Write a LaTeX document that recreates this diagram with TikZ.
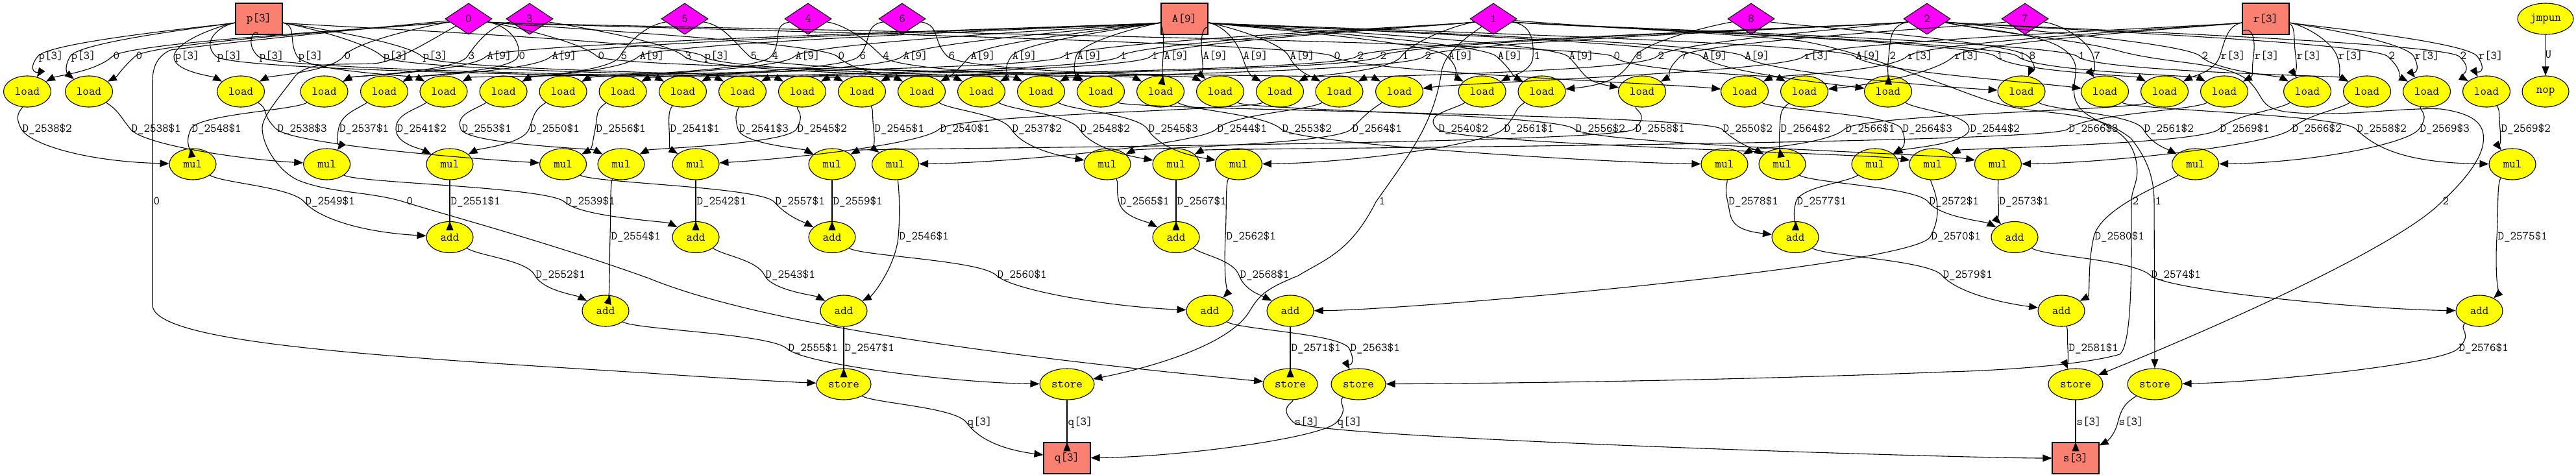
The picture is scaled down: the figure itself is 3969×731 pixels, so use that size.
\documentclass[tikz,border=0pt]{standalone}
\usepackage{fontspec}
\usetikzlibrary{arrows.meta,calc,shapes.geometric}
\definecolor{memcolor}{rgb}{0.98, 0.5, 0.447}
\definecolor{opcolor}{rgb}{1, 1, 0}
\definecolor{idxcolor}{rgb}{1, 0, 1}
\tikzset{
	opnode/.style={
		ellipse,
		draw=black,
		line width=1.1pt,
		fill=opcolor,
		font=\ttfamily\fontsize{18.5}{20}\selectfont,
		inner sep=0pt,
		minimum height=48pt,
		minimum width=73pt
	},
	shortop/.style={
		opnode,
		minimum width=72pt
	},
	storeop/.style={
		opnode,
		minimum width=84pt
	},
	memnode/.style={
		rectangle,
		draw=black,
		line width=1.1pt,
		fill=memcolor,
		font=\ttfamily\fontsize{18.5}{20}\selectfont,
		inner sep=0pt,
		minimum height=48pt,
		minimum width=72pt
	},
	idxnode/.style={
		diamond,
		draw=black,
		line width=1.1pt,
		fill=idxcolor,
		font=\ttfamily\fontsize{18.5}{20}\selectfont,
		inner sep=0pt,
		aspect=1.5,
		minimum height=48pt,
		minimum width=72pt
	},
	arrow/.style={
		draw=black,
		line width=1.1pt,
		-{Triangle[length=14pt,width=11pt]}
	},
	lab/.style={
		font=\ttfamily\fontsize{18.5}{20}\selectfont,
		inner sep=0pt,
		text height=11pt,
		text depth=3pt
	},
}
\newcommand{\linkrise}{29}
\newcommand{\linkreach}{45}
\newcommand{\link}[5][24]{%
	\draw [arrow] let \p1=(#2), \p2=(#3),
		\n{wx}={#4pt-3pt},
		\n{wy}={(\y1+\y2)/2-2pt+ifthenelse(\y1-\y2>150,3,0)*1pt},
		\n{tilt}={max(-25pt,min(25pt,0.05*(\x1-\x2)))},
		\n{gap}={0.4*(\y1-\n{wy})},
		\n{land}={45+(24-#1)*6},
		\n{outx}={max(-\linkreach pt,min(\linkreach pt,\n{wx}-\x1))},
		\n{inx}={max(-\n{land},min(\n{land},\n{wx}-\x2))} in
		(#2) .. controls ({\x1+\n{outx}},{\y1-\linkrise pt}) and ({\n{wx}+\n{tilt}},{\n{wy}+\n{gap}}) ..
		({\n{wx}},{\n{wy}}) node [lab,anchor=west,xshift=1pt] {#5}
		.. controls ({\n{wx}-\n{tilt}},{\n{wy}-\n{gap}}) and ({\x2+\n{inx}},{\y2+#1 pt}) .. (#3);
}
\begin{document}
\begin{tikzpicture}[x=1pt,y=-1pt]
		\useasboundingbox (0,0) rectangle (3969,731);
		\node (parr) [memnode] at (399,29) {p[3]};
		\node (idx0) [idxnode] at (722,29) {0};
		\node (idx3) [idxnode] at (816,29) {3};
		\node (idx5) [idxnode] at (1055,29) {5};
		\node (idx4) [idxnode] at (1245,29) {4};
		\node (idx6) [idxnode] at (1390,29) {6};
		\node (aarr) [memnode] at (1825,29) {A[9]};
		\node (idx1) [idxnode] at (2301,29) {1};
		\node (idx8) [idxnode] at (2698,29) {8};
		\node (idx2) [idxnode] at (2969,29) {2};
		\node (idx7) [idxnode] at (3120,29) {7};
		\node (rarr) [memnode] at (3491,29) {r[3]};
		\node (jmpun) [opnode,minimum width=86pt] at (3922,29) {jmpun};
		\node (nop) [shortop] at (3922,141) {nop};
		\node (load42) [opnode] at (42,141) {load};
		\node (load137) [opnode] at (137,141) {load};
		\node (load371) [opnode] at (371,141) {load};
		\node (load500) [opnode] at (499.5,141) {load};
		\node (load592) [opnode] at (592,141) {load};
		\node (load684) [opnode] at (683.5,141) {load};
		\node (load776) [opnode] at (775.6,141) {load};
		\node (load868) [opnode] at (867.6,141) {load};
		\node (load960) [opnode] at (959.6,141) {load};
		\node (load1052) [opnode] at (1052,141) {load};
		\node (load1144) [opnode] at (1144,141) {load};
		\node (load1236) [opnode] at (1236,141) {load};
		\node (load1328) [opnode] at (1328,141) {load};
		\node (load1420) [opnode] at (1420,141) {load};
		\node (load1512) [opnode] at (1512,141) {load};
		\node (load1604) [opnode] at (1604,141) {load};
		\node (load1696) [opnode] at (1696,141) {load};
		\node (load1788) [opnode] at (1788,141) {load};
		\node (load1880) [opnode] at (1880,141) {load};
		\node (load1972) [opnode] at (1972,141) {load};
		\node (load2064) [opnode] at (2063.5,141) {load};
		\node (load2156) [opnode] at (2156,141) {load};
		\node (load2284) [opnode] at (2283.6,141) {load};
		\node (load2376) [opnode] at (2375.5,141) {load};
		\node (load2530) [opnode] at (2530,141) {load};
		\node (load2688) [opnode] at (2688,141) {load};
		\node (load2780) [opnode] at (2780,141) {load};
		\node (load2909) [opnode] at (2909,141) {load};
		\node (load3115) [opnode] at (3114.5,141) {load};
		\node (load3243) [opnode] at (3243,141) {load};
		\node (load3335) [opnode] at (3335,141) {load};
		\node (load3427) [opnode] at (3427,141) {load};
		\node (load3555) [opnode] at (3555,141) {load};
		\node (load3647) [opnode] at (3647,141) {load};
		\node (load3739) [opnode] at (3739,141) {load};
		\node (load3831) [opnode] at (3831,141) {load};
		\node (mul297) [shortop] at (297,253) {mul};
		\node (mul504) [shortop] at (503.6,253) {mul};
		\node (mul693) [shortop] at (693,253) {mul};
		\node (mul868) [shortop] at (867.6,253) {mul};
		\node (mul957) [shortop] at (957,253) {mul};
		\node (mul1072) [shortop] at (1072,253) {mul};
		\node (mul1282) [shortop] at (1282,253) {mul};
		\node (mul1380) [shortop] at (1379.5,253) {mul};
		\node (mul1706) [shortop] at (1706,253) {mul};
		\node (mul1812) [shortop] at (1812,253) {mul};
		\node (mul1908) [shortop] at (1908.4,253) {mul};
		\node (mul2657) [shortop] at (2657,253) {mul};
		\node (mul2746) [shortop] at (2746,253) {mul};
		\node (mul2889) [shortop] at (2889,253) {mul};
		\node (mul2978) [shortop] at (2978,253) {mul};
		\node (mul3078) [shortop] at (3078.4,253) {mul};
		\node (mul3383) [shortop] at (3382.5,253) {mul};
		\node (mul3871) [shortop] at (3871,253) {mul};
		\node (adda693) [shortop] at (693,365.5) {add};
		\node (adda1072) [shortop] at (1072,365.5) {add};
		\node (adda1282) [shortop] at (1282,365.5) {add};
		\node (adda1812) [shortop] at (1812,365.5) {add};
		\node (adda2766) [shortop] at (2766,365.5) {add};
		\node (adda3104) [shortop] at (3104,365.5) {add};
		\node (addb933) [shortop] at (933,479) {add};
		\node (addb1300) [shortop] at (1300,479) {add};
		\node (addb1864) [shortop] at (1864,479) {add};
		\node (addb1988) [shortop] at (1988,479) {add};
		\node (addb3176) [shortop] at (3176,479) {add};
		\node (addb3820) [shortop] at (3820,479) {add};
		\node (store1300) [storeop] at (1300,592) {store};
		\node (store1644) [storeop] at (1644,592) {store};
		\node (store1988) [storeop] at (1988,592) {store};
		\node (store2093) [storeop] at (2093,592) {store};
		\node (store3198) [storeop] at (3198,592) {store};
		\node (store3320) [storeop] at (3320,592) {store};
		\node (qarr) [memnode] at (1644,706) {q[3]};
		\node (sarr) [memnode] at (3198,706) {s[3]};
		\renewcommand{\linkrise}{10}
		\renewcommand{\linkreach}{60}
		\link{parr}{load42}{61}{p[3]}
		\link{parr}{load137}{111}{p[3]}
		\link{parr}{load371}{271}{p[3]}
		\link{parr}{load1052}{336}{p[3]}
		\link{parr}{load1144}{401}{p[3]}
		\link{parr}{load684}{461}{p[3]}
		\link{parr}{load1236}{592}{p[3]}
		\link{parr}{load1328}{653}{p[3]}
		\link{parr}{load1604}{1087}{p[3]}
		\link{idx0}{load42}{176}{0}
		\link{idx0}{load137}{211}{0}
		\link{idx0}{load371}{532}{0}
		\link{idx0}{load592}{801}{0}
		\link{idx0}{load2156}{923}{0}
		\link{idx0}{load1420}{1293}{0}
		\link[12]{idx0}{load2688}{2057}{0}
		\link{idx0}{load2780}{2488}{0}
		\link{idx3}{load500}{723}{3}
		\link{idx3}{load1512}{1057}{3}
		\link{idx5}{load776}{958}{5}
		\link{idx5}{load1788}{1158}{5}
		\link{idx4}{load868}{1191}{4}
		\link{idx4}{load1696}{1362}{4}
		\link{idx6}{load960}{1326}{6}
		\link{idx6}{load1880}{1463}{6}
		\link{idx1}{load684}{1641}{1}
		\link{idx1}{load1052}{1728}{1}
		\link{idx1}{load1144}{1776}{1}
		\link{idx1}{load1972}{2162}{1}
		\link{idx1}{load2284}{2365}{1}
		\link{idx1}{load3335}{3078}{1}
		\link{idx1}{load3427}{3112}{1}
		\link{idx1}{load3647}{3204}{1}
		\link{idx2}{load1236}{2093}{2}
		\link{idx2}{load1328}{2128}{2}
		\link{idx2}{load1604}{2197}{2}
		\link{idx2}{load2064}{2556}{2}
		\link{idx2}{load2909}{2913}{2}
		\link{idx2}{load3555}{3394}{2}
		\link{idx2}{load3739}{3682}{2}
		\link{idx2}{load3831}{3792}{2}
		\link[12]{idx8}{load2376}{2522}{8}
		\link{idx8}{load3115}{3128}{8}
		\link{idx7}{load2530}{2592}{7}
		\link{idx7}{load3243}{3228}{7}
		\link{aarr}{load500}{752}{A[9]}
		\link{aarr}{load592}{852}{A[9]}
		\link{aarr}{load776}{987}{A[9]}
		\link{aarr}{load868}{1227}{A[9]}
		\link{aarr}{load960}{1393}{A[9]}
		\link{aarr}{load1420}{1497}{A[9]}
		\link{aarr}{load1512}{1561}{A[9]}
		\link{aarr}{load1696}{1661}{A[9]}
		\link{aarr}{load1788}{1795}{A[9]}
		\link{aarr}{load1880}{1855}{A[9]}
		\link{aarr}{load1972}{1917}{A[9]}
		\link{aarr}{load2064}{1989}{A[9]}
		\link{aarr}{load2284}{2233}{A[9]}
		\link{aarr}{load2376}{2309}{A[9]}
		\link[16]{aarr}{load2530}{2419}{A[9]}
		\link[14]{aarr}{load2909}{2625}{A[9]}
		\link[8]{aarr}{load3115}{2690}{A[9]}
		\link[14]{aarr}{load3243}{2861}{A[9]}
		\link[14]{rarr}{load2156}{2782}{r[3]}
		\link{rarr}{load2688}{2941}{r[3]}
		\link[12]{rarr}{load2780}{3013}{r[3]}
		\link{rarr}{load3335}{3423}{r[3]}
		\link{rarr}{load3427}{3475}{r[3]}
		\link{rarr}{load3555}{3540}{r[3]}
		\link{rarr}{load3647}{3604}{r[3]}
		\link{rarr}{load3739}{3722}{r[3]}
		\link{rarr}{load3831}{3820}{r[3]}
		\draw [arrow] (jmpun) -- node [lab,anchor=west,xshift=-1pt] {U} (nop);
		\renewcommand{\linkrise}{29}
		\renewcommand{\linkreach}{45}
		\link[4]{load42}{mul297}{36}{D\_2538\$2}
		\link[8]{load137}{mul504}{204}{D\_2538\$1}
		\link[8]{load371}{mul868}{429}{D\_2538\$3}
		\link{load500}{mul297}{297}{D\_2548\$1}
		\link{load592}{mul504}{524.5}{D\_2537\$1}
		\link{load684}{mul693}{613}{D\_2541\$2}
		\link{load776}{mul957}{713}{D\_2553\$1}
		\link{load868}{mul693}{818}{D\_2550\$1}
		\link{load960}{mul868}{920}{D\_2556\$1}
		\link{load1052}{mul1072}{1034}{D\_2541\$1}
		\link{load1144}{mul1282}{1140}{D\_2541\$3}
		\link{load1236}{mul957}{1230}{D\_2545\$2}
		\link{load1328}{mul1380}{1349}{D\_2545\$1}
		\link[16]{load1420}{mul1706}{1561}{D\_2537\$2}
		\link[16]{load1512}{mul1812}{1666}{D\_2548\$2}
		\link[16]{load1604}{mul1908}{1771}{D\_2545\$3}
		\link{load1696}{mul2746}{2656}{D\_2550\$2}
		\link[2]{load1788}{mul2657}{1977}{D\_2553\$2}
		\link[16]{load1880}{mul3078}{2429}{D\_2556\$2}
		\link[8]{load1972}{mul1072}{1450}{D\_2540\$1}
		\link[2]{load2064}{mul1380}{1877}{D\_2544\$1}
		\link{load2156}{mul1706}{2085}{D\_2564\$1}
		\link[16]{load2284}{mul2978}{2218}{D\_2540\$2}
		\link[2]{load2376}{mul1908}{2319}{D\_2561\$1}
		\link{load2530}{mul1282}{2521}{D\_2558\$1}
		\link{load2688}{mul2889}{2933}{D\_2564\$3}
		\link{load2780}{mul2746}{2745}{D\_2564\$2}
		\link{load2909}{mul2889}{3037}{D\_2544\$2}
		\link{load3115}{mul3383}{3305}{D\_2561\$2}
		\link[2]{load3243}{mul3871}{3633}{D\_2558\$2}
		\link{load3335}{mul2657}{2845}{D\_2566\$1}
		\link{load3427}{mul1812}{3189}{D\_2566\$3}
		\link{load3555}{mul2978}{3422}{D\_2569\$1}
		\link[2]{load3647}{mul3078}{3533}{D\_2566\$2}
		\link[2]{load3739}{mul3383}{3730}{D\_2569\$3}
		\link{load3831}{mul3871}{3855}{D\_2569\$2}
		\link[8]{mul297}{adda693}{472}{D\_2549\$1}
		\link{mul504}{adda1072}{873}{D\_2539\$1}
		\link{mul693}{adda693}{696}{D\_2551\$1}
		\link{mul957}{addb933}{943}{D\_2554\$1}
		\link{mul868}{adda1282}{1196}{D\_2557\$1}
		\link{mul1072}{adda1072}{1075}{D\_2542\$1}
		\link{mul1282}{adda1282}{1285}{D\_2559\$1}
		\link{mul1380}{addb1300}{1387}{D\_2546\$1}
		\link{mul1706}{adda1812}{1727}{D\_2565\$1}
		\link{mul1812}{adda1812}{1815}{D\_2567\$1}
		\link{mul1908}{addb1864}{1891}{D\_2562\$1}
		\link[12]{mul2657}{adda2766}{2665}{D\_2578\$1}
		\link{mul2889}{adda2766}{2770}{D\_2577\$1}
		\link{mul2746}{adda3104}{2974}{D\_2572\$1}
		\link[1]{mul2978}{addb1988}{2977}{D\_2570\$1}
		\link{mul3078}{adda3104}{3082}{D\_2573\$1}
		\link{mul3383}{addb3176}{3229}{D\_2580\$1}
		\link{mul3871}{addb3820}{3850}{D\_2575\$1}
		\link{adda693}{addb933}{827}{D\_2552\$1}
		\link{adda1072}{addb1300}{1181}{D\_2543\$1}
		\link[6]{adda1282}{addb1864}{1538}{D\_2560\$1}
		\link{adda1812}{addb1988}{1912}{D\_2568\$1}
		\link[14]{adda2766}{addb3176}{2995}{D\_2579\$1}
		\link[2]{adda3104}{addb3820}{3316}{D\_2574\$1}
		\link[2]{addb933}{store1644}{1216}{D\_2555\$1}
		\link{addb1300}{store1300}{1303}{D\_2547\$1}
		\link{addb1864}{store2093}{2082}{D\_2563\$1}
		\link{addb1988}{store1988}{1991}{D\_2571\$1}
		\link{addb3176}{store3198}{3189}{D\_2581\$1}
		\link[3]{addb3820}{store3320}{3790}{D\_2576\$1}
		\link[14]{store1300}{qarr}{1492}{q[3]}
		\link{store1644}{qarr}{1647}{q[3]}
		\link[2]{store2093}{qarr}{2062}{q[3]}
		\link[0]{store1988}{sarr}{1996}{s[3]}
		\link{store3198}{sarr}{3201}{s[3]}
		\link{store3320}{sarr}{3266}{s[3]}
		\draw [arrow] (idx0) .. controls (500,50) and (330,68) .. (263,77) .. controls (245,85) and (235,100) .. (235,125) -- (235,311) node [lab,anchor=west,xshift=1pt] {0} -- (235,470) .. controls (235,530) and (600,550) .. (1000,575) .. controls (1100,582) and (1200,588) .. (store1300);
		\draw [arrow] (idx0) .. controls (650,70) and (610,95) .. (576,98) .. controls (520,100) and (475,95) .. (455,117) .. controls (430,150) and (404,180) .. (404,197) .. controls (404,225) and (430,265) .. (460,278) .. controls (510,298) and (570,295) .. (622,311) node [lab,anchor=west,xshift=4pt] {0} .. controls (700,335) and (850,375) .. (1000,429) .. controls (1150,490) and (1450,540) .. (store1988);
		\draw [arrow] (idx1) .. controls (2240,70) and (2225,90) .. (2221,110) .. controls (2210,190) and (2170,240) .. (2120,311) node [lab,anchor=west,xshift=4pt] {1} .. controls (2080,390) and (2040,400) .. (2000,425) .. controls (1950,445) and (1940,455) .. (1925,480) .. controls (1895,530) and (1780,565) .. (store1644);
		\draw [arrow] (idx2) .. controls (3070,50) and (3190,50) .. (3198,103) .. controls (3200,125) and (3185,150) .. (3211,173) .. controls (3240,195) and (3285,200) .. (3292,253) .. controls (3296,280) and (3284,290) .. (3284,311) node [lab,anchor=west,xshift=1pt] {2} .. controls (3284,400) and (3286,530) .. (3266,546) .. controls (3200,565) and (3050,572) .. (3000,573) .. controls (2700,585) and (2400,590) .. (store2093);
		\draw [arrow] (idx1) .. controls (2500,45) and (2650,50) .. (2774,63) .. controls (2850,75) and (2950,115) .. (3000,132) .. controls (3060,155) and (3090,165) .. (3131,170) .. controls (3200,178) and (3240,180) .. (3283,213) .. controls (3305,240) and (3319,270) .. (3319,311) node [lab,anchor=west,xshift=1pt] {1} -- (store3320);
		\draw [arrow] (idx2) .. controls (3100,55) and (3200,60) .. (3270,80) .. controls (3350,100) and (3430,95) .. (3465,125) .. controls (3490,150) and (3480,165) .. (3520,172) .. controls (3600,182) and (3700,165) .. (3761,168) .. controls (3810,175) and (3830,190) .. (3826,220) .. controls (3822,250) and (3790,285) .. (3762,311) node [lab,anchor=west,xshift=1pt] {2} .. controls (3700,375) and (3450,490) .. (store3198);
		\end{tikzpicture}
\end{document}
